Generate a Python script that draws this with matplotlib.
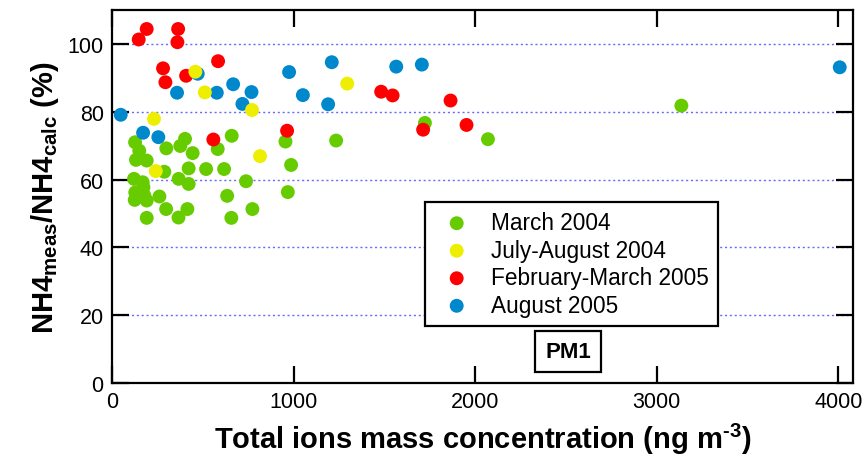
import matplotlib
matplotlib.use('Agg')
import matplotlib.pyplot as plt

plt.rcParams['font.family'] = ['Liberation Sans', 'DejaVu Sans']
plt.rcParams['mathtext.fontset'] = 'custom'
plt.rcParams['mathtext.rm'] = 'Liberation Sans:bold'
plt.rcParams['mathtext.bf'] = 'Liberation Sans:bold'
plt.rcParams['mathtext.default'] = 'rm'

# --- data ---
mar04_x = [127, 150, 132, 191, 299, 402, 376, 444, 582, 659, 955, 1234, 288, 422, 518, 617,
           986, 121, 169, 367, 422, 738, 173, 128, 178, 125, 191, 261, 634, 968, 298, 415,
           773, 191, 366, 657, 1723, 2070, 3135]
mar04_y = [71.0, 68.5, 65.8, 65.6, 69.2, 72.0, 69.9, 67.8, 69.0, 72.9, 71.2, 71.5, 62.3, 63.3, 63.1, 63.1,
           64.3, 60.2, 59.2, 60.2, 58.7, 59.5, 57.7, 56.2, 55.3, 54.0, 53.8, 55.0, 55.2, 56.3, 51.3, 51.3,
           51.3, 48.7, 48.8, 48.7, 76.7, 71.9, 81.8]

julaug04_x = [459, 511, 771, 231, 815, 241, 1295]
julaug04_y = [91.8, 85.7, 80.5, 77.9, 66.9, 62.5, 88.3]

febmar05_x = [191, 147, 364, 360, 584, 281, 294, 408, 558, 964, 1482, 1545, 1864, 1952, 1713]
febmar05_y = [104.4, 101.3, 104.4, 100.5, 94.9, 92.8, 88.7, 90.6, 71.8, 74.4, 85.9, 84.8, 83.3, 76.1, 74.7]

aug05_x = [48, 358, 472, 577, 667, 768, 718, 975, 1210, 1051, 1190, 171, 255, 1565, 1706, 4007]
aug05_y = [79.1, 85.6, 91.2, 85.6, 88.1, 85.8, 82.3, 91.7, 94.6, 84.9, 82.2, 73.8, 72.5, 93.3, 93.9, 93.1]

fig = plt.figure(figsize=(8.63, 4.64), dpi=100)
ax = fig.add_axes([0.1298, 0.1724, 0.8586, 0.8039])

ms = 100
h_g = ax.scatter(mar04_x, mar04_y, s=ms, color='#66cc00', edgecolors='none', zorder=3, label='March 2004')
h_r = ax.scatter(febmar05_x, febmar05_y, s=ms, color='#ff0000', edgecolors='none', zorder=4, label='February-March 2005')
h_b = ax.scatter(aug05_x, aug05_y, s=ms, color='#0088cc', edgecolors='none', zorder=5, label='August 2005')
h_y = ax.scatter(julaug04_x, julaug04_y, s=ms, color='#eeee00', edgecolors='none', zorder=6, label='July-August 2004')

ax.set_xlim(0, 4080)
ax.set_ylim(0, 110)
ax.set_xticks([0, 1000, 2000, 3000, 4000])
ax.set_yticks([0, 20, 40, 60, 80, 100])

for y in [20, 40, 60, 80, 100]:
    ax.axhline(y, color='#6a6aff', linestyle=(0, (1.5, 2)), linewidth=1.0, zorder=1)

ax.tick_params(direction='in', length=12, width=1.6, labelsize=15.5,
               top=True, right=True, pad=6)
for sp in ax.spines.values():
    sp.set_linewidth(1.6)

ax.set_xlabel(r'Total ions mass concentration (ng m$^{\text{-3}}$)', fontsize=21, fontweight='bold', labelpad=6)
ax.set_ylabel('NH4$_{meas}$/NH4$_{calc}$ (%)', fontsize=21, fontweight='bold', labelpad=5)

leg = ax.legend(handles=[h_g, h_y, h_r, h_b], loc='upper left',
                bbox_to_anchor=(0.4224, 0.485), borderaxespad=0,
                fontsize=16.3, frameon=True, fancybox=False, framealpha=1,
                edgecolor='black', handletextpad=0.5, labelspacing=0.2,
                borderpad=0.4, scatterpoints=1)
leg.get_frame().set_linewidth(1.6)
leg.set_zorder(10)

ax.text(2512, 9.4, 'PM1', fontsize=16, fontweight='bold', ha='center', va='center',
        bbox=dict(boxstyle='square,pad=0.45', facecolor='white', edgecolor='black', linewidth=1.6),
        zorder=10)

fig.savefig('out.png', dpi=100)
